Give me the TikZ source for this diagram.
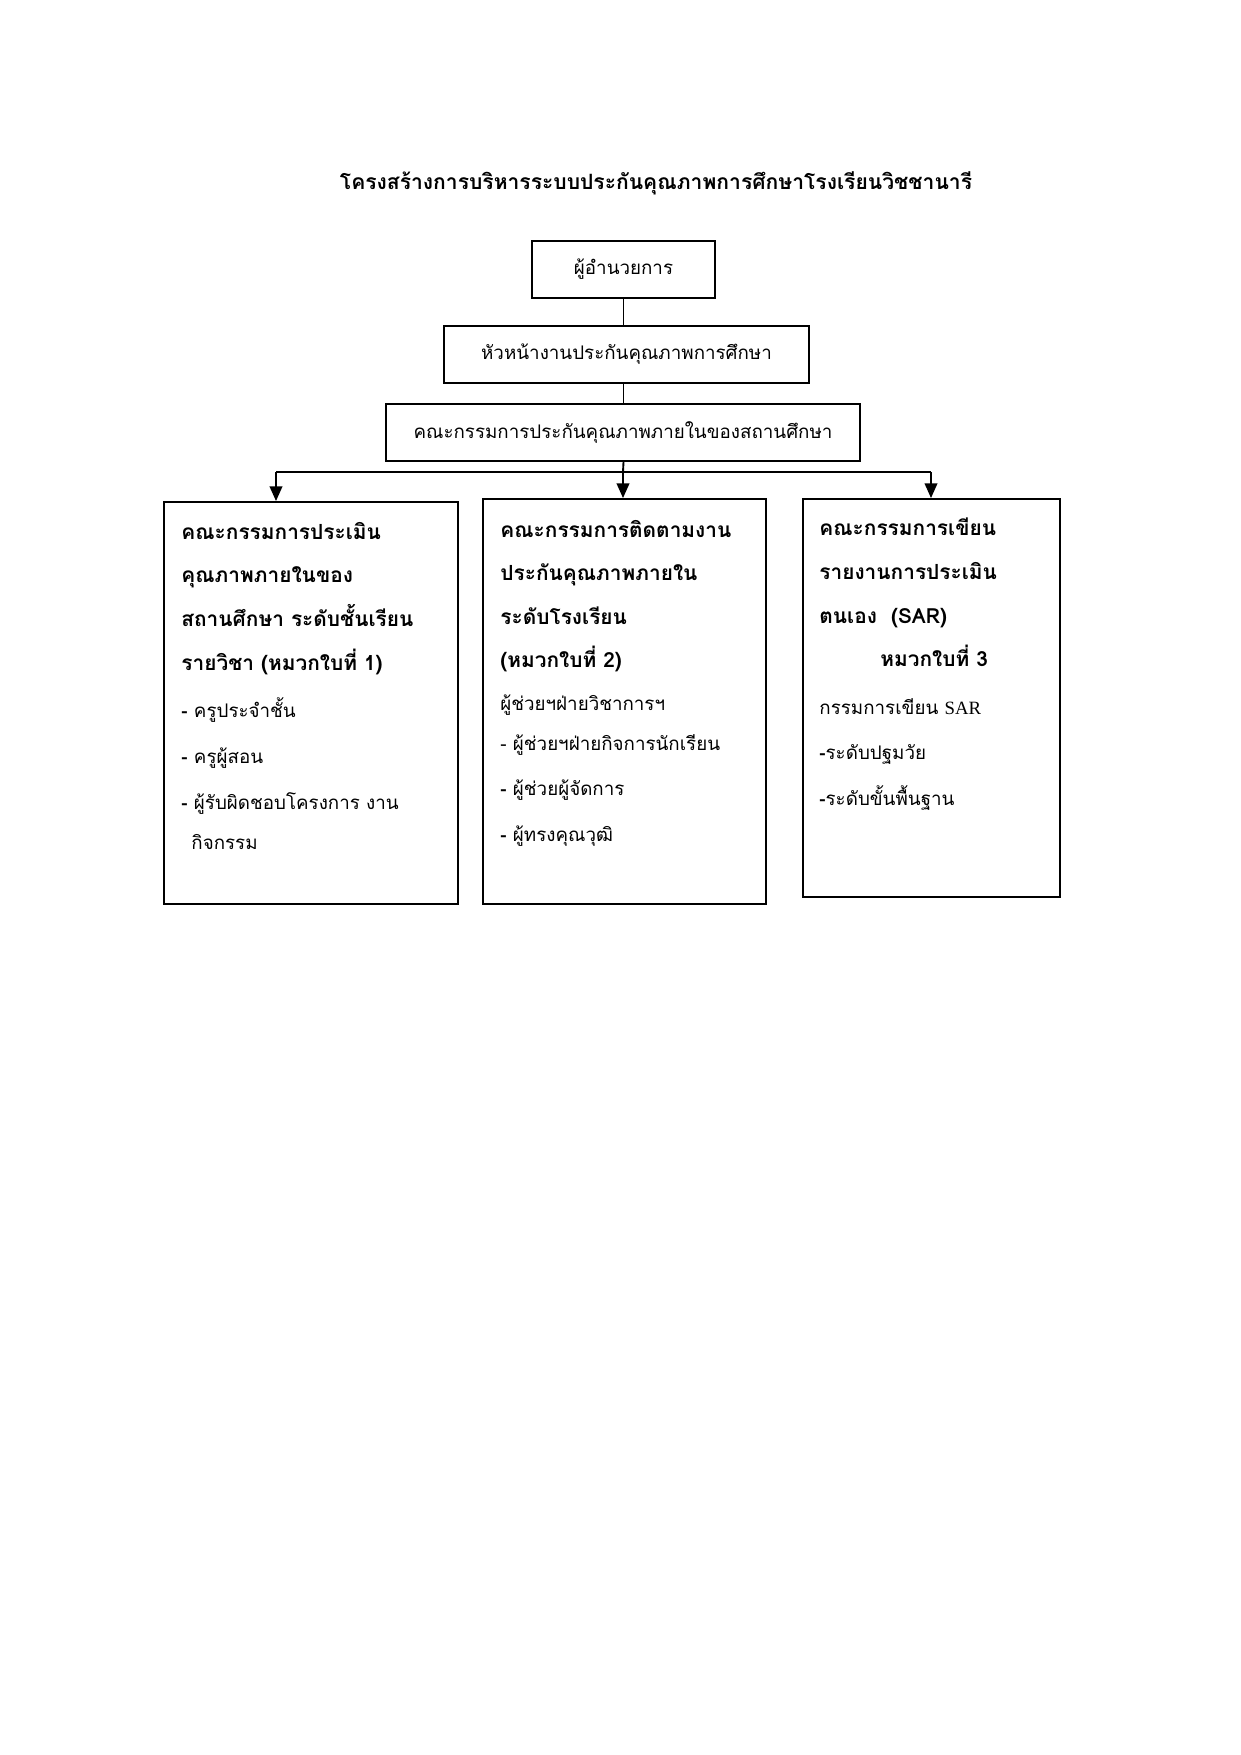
\documentclass[tikz,border=0pt]{standalone}
\usepackage{fontspec}
\setmainfont[Script=Thai]{Loma}
\newfontfamily\sarfont{Liberation Serif}
\usetikzlibrary{arrows.meta}
\def\px{0.4797pt}
\tikzset{
  box/.style={draw, line width=0.9pt, inner sep=0pt},
  link/.style={line width=0.9pt},
  bus/.style={line width=1.4pt},
  arr/.style={line width=0.9pt, -{Triangle[length=7pt,width=6pt]}},
  reg/.style={anchor=base west, inner sep=0pt, font=\fontsize{9}{11}\selectfont},
  hd/.style={anchor=base west, inner sep=0pt, font=\fontsize{10}{12}\selectfont\bfseries},
  ttl/.style={inner sep=0pt, font=\fontsize{10.1}{12}\selectfont\bfseries},
}
\begin{document}
\begin{tikzpicture}[x=0.4797pt,y=-0.4797pt]
\useasboundingbox[fill=white] (0,0) rectangle (1241,1755);
\node[ttl] (title) at (656,183) {โครงสร้างการบริหารระบบประกันคุณภาพการศึกษาโรงเรียนวิชชานารี};

\node[box, minimum width=183*\px, minimum height=57*\px, font=\fontsize{9}{11}\selectfont] (b1) at (623.5,269.5) {ผู้อำนวยการ};
\node[box, minimum width=365*\px, minimum height=57*\px, font=\fontsize{9}{11}\selectfont] (b2) at (626.5,354.5) {หัวหน้างานประกันคุณภาพการศึกษา};
\node[box, minimum width=474*\px, minimum height=57*\px, font=\fontsize{9}{11}\selectfont] (b3) at (623,432.5) {คณะกรรมการประกันคุณภาพภายในของสถานศึกษา};

\node[box, minimum width=294*\px, minimum height=402*\px] (bl) at (311,703) {};
\node[box, minimum width=283*\px, minimum height=405*\px] (bm) at (624.5,701.5) {};
\node[box, minimum width=257*\px, minimum height=398*\px] (br) at (931.5,698) {};

\coordinate (busm) at (623,472);
\coordinate (busl) at (276,472);
\coordinate (busr) at (931,472);

\draw[link] (b1.south) -- (b1.south |- b2.north);
\draw[link] (b1.south |- b2.south) -- (b1.south |- b3.north);
\draw[link] (b1.south |- b3.south) -- (busm);
\draw[bus] (busl) -- (busr);
\draw[arr] (busl) -- (busl |- bl.north);
\draw[arr] (busm) -- (busm |- bm.north);
\draw[arr] (busr) -- (busr |- br.north);

% left box
\node[hd] (l1) at (181,539) {คณะกรรมการประเมิน};
\node[hd] (l2) at (181,582.5) {คุณภาพภายในของ};
\node[hd] (l3) at (181,626) {สถานศึกษา ระดับชั้นเรียน};
\node[hd] (l4) at (181,670) {รายวิชา (หมวกใบที่ 1)};
\node[reg] (l5) at (181,717.5) {\textbf{-} ครูประจำชั้น};
\node[reg] (l6) at (181,763.5) {\textbf{-} ครูผู้สอน};
\node[reg] (l7) at (181,809) {\textbf{-} ผู้รับผิดชอบโครงการ งาน};
\node[reg] (l8) at (191,849.5) {กิจกรรม};

% middle box
\node[hd] (m1) at (500,537) {คณะกรรมการติดตามงาน};
\node[hd] (m2) at (500,580) {ประกันคุณภาพภายใน};
\node[hd] (m3) at (500,624) {ระดับโรงเรียน};
\node[hd] (m4) at (500,667.5) {(หมวกใบที่ 2)};
\node[reg] (m5) at (500,710.5) {ผู้ช่วยฯฝ่ายวิชาการฯ};
\node[reg] (m6) at (500,750.5) {- ผู้ช่วยฯฝ่ายกิจการนักเรียน};
\node[reg] (m7) at (500,795.5) {\textbf{-} ผู้ช่วยผู้จัดการ};
\node[reg] (m8) at (500,841.5) {\textbf{-} ผู้ทรงคุณวุฒิ};

% right box
\node[hd] (r1) at (819,535.5) {คณะกรรมการเขียน};
\node[hd] (r2) at (819,579) {รายงานการประเมิน};
\node[hd] (r3) at (819,623) {ตนเอง\ \ (SAR)};
\node[hd] (r4) at (880,666) {หมวกใบที่ 3};
\node[reg] (r5) at (819,714) {กรรมการเขียน {\sarfont SAR}};
\node[reg] (r6) at (819,759.5) {\textbf{-}ระดับปฐมวัย};
\node[reg] (r7) at (819,805.5) {\textbf{-}ระดับขั้นพื้นฐาน};
\end{tikzpicture}
\end{document}
